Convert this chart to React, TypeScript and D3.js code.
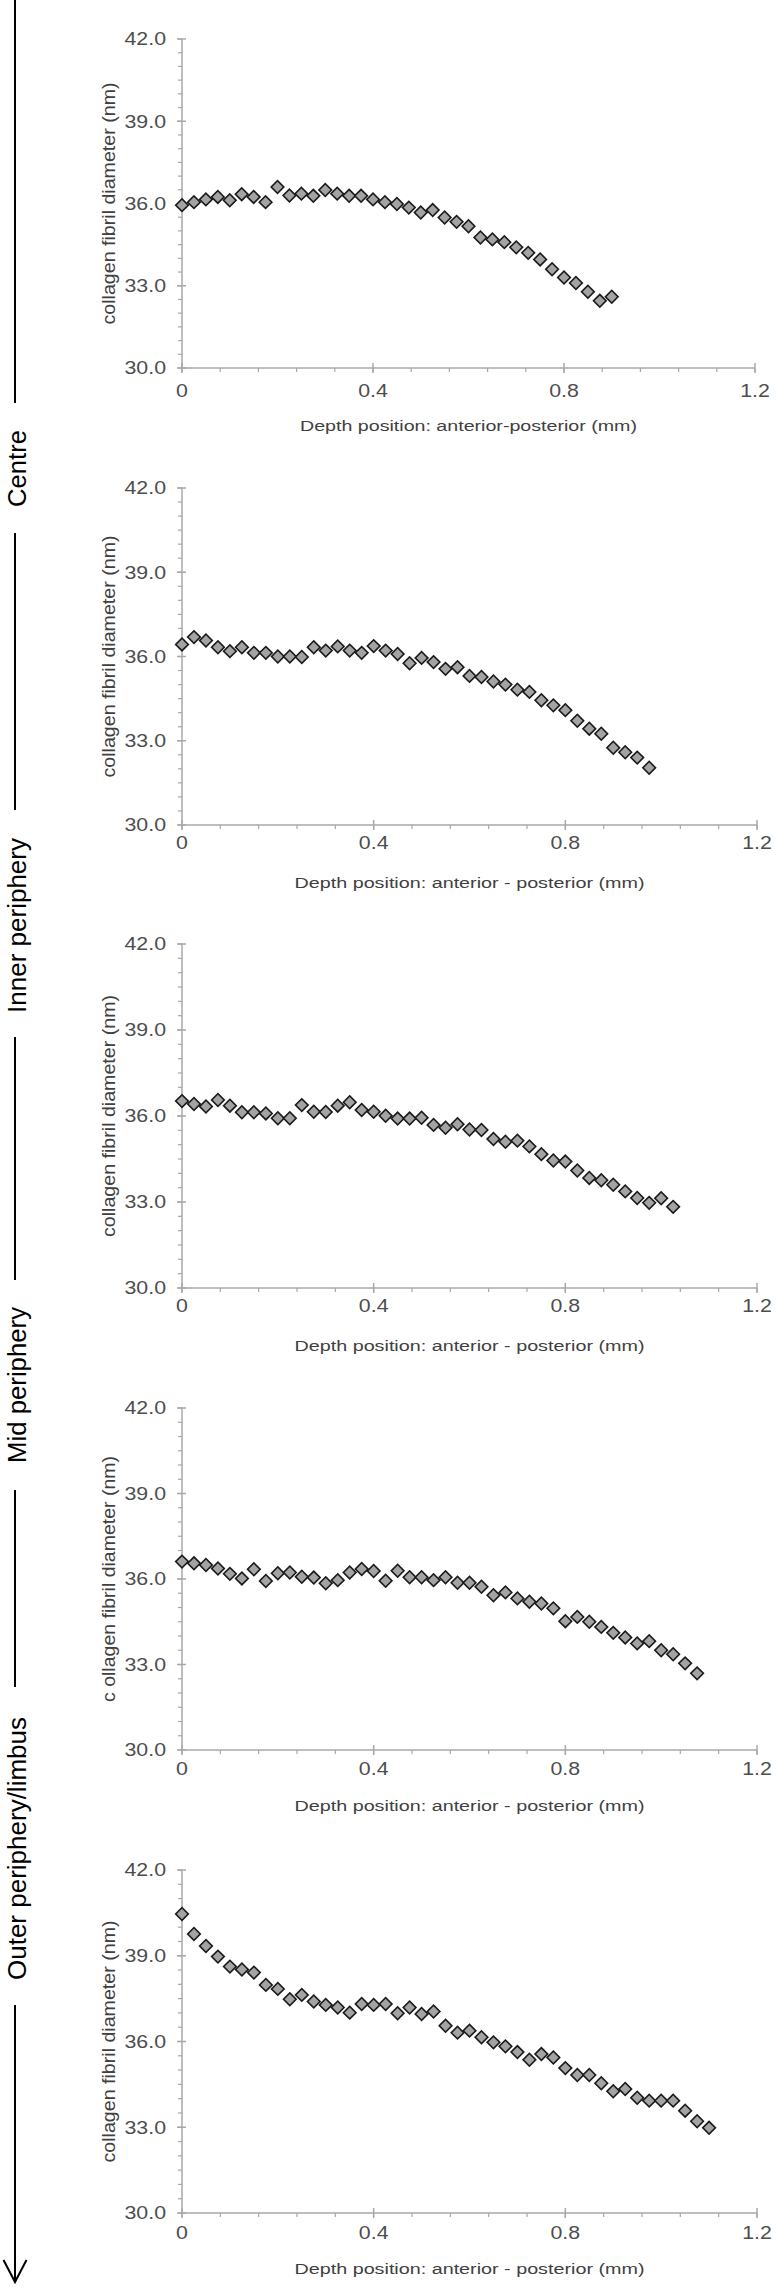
import React from "react";
import * as d3 from "d3";

// ---- data ----
const DEPTH = [0, 0.025, 0.05, 0.075, 0.1, 0.125, 0.15, 0.175, 0.2, 0.225, 0.25, 0.275, 0.3, 0.325, 0.35, 0.375, 0.4, 0.425, 0.45, 0.475, 0.5, 0.525, 0.55, 0.575, 0.6, 0.625, 0.65, 0.675, 0.7, 0.725, 0.75, 0.775, 0.8, 0.825, 0.85, 0.875, 0.9, 0.925, 0.95, 0.975, 1.0, 1.025, 1.05, 1.075, 1.1];

const PANEL1 = [35.94, 36.05, 36.15, 36.24, 36.12, 36.34, 36.24, 36.05, 36.6, 36.29, 36.36, 36.28, 36.49, 36.36, 36.28, 36.28, 36.15, 36.05, 35.98, 35.85, 35.67, 35.76, 35.49, 35.33, 35.17, 34.76, 34.69, 34.59, 34.4, 34.2, 33.96, 33.6, 33.3, 33.1, 32.78, 32.45, 32.6];
const PANEL2 = [36.43, 36.69, 36.57, 36.33, 36.19, 36.33, 36.13, 36.13, 36.0, 36.0, 35.98, 36.33, 36.21, 36.36, 36.21, 36.13, 36.37, 36.21, 36.09, 35.76, 35.95, 35.8, 35.56, 35.62, 35.31, 35.27, 35.11, 35.0, 34.82, 34.74, 34.44, 34.26, 34.09, 33.71, 33.43, 33.25, 32.75, 32.59, 32.4, 32.04];
const PANEL3 = [36.52, 36.42, 36.33, 36.56, 36.36, 36.13, 36.13, 36.09, 35.92, 35.92, 36.38, 36.15, 36.14, 36.36, 36.48, 36.21, 36.15, 36.01, 35.91, 35.91, 35.94, 35.69, 35.59, 35.71, 35.53, 35.51, 35.2, 35.1, 35.14, 34.94, 34.67, 34.45, 34.41, 34.1, 33.84, 33.76, 33.6, 33.37, 33.14, 32.97, 33.13, 32.83];
const PANEL4 = [36.61, 36.55, 36.49, 36.37, 36.18, 36.02, 36.34, 35.93, 36.2, 36.23, 36.08, 36.05, 35.85, 35.96, 36.23, 36.35, 36.28, 35.94, 36.29, 36.06, 36.06, 35.96, 36.06, 35.87, 35.87, 35.73, 35.43, 35.53, 35.32, 35.2, 35.14, 34.97, 34.52, 34.67, 34.5, 34.32, 34.11, 33.95, 33.74, 33.82, 33.5, 33.36, 33.04, 32.69];
const PANEL5 = [40.46, 39.76, 39.34, 38.97, 38.62, 38.52, 38.41, 37.98, 37.84, 37.48, 37.63, 37.4, 37.28, 37.19, 37.01, 37.31, 37.28, 37.31, 36.99, 37.19, 36.96, 37.05, 36.55, 36.31, 36.38, 36.15, 35.97, 35.83, 35.63, 35.36, 35.56, 35.44, 35.07, 34.83, 34.83, 34.54, 34.26, 34.34, 34.03, 33.93, 33.93, 33.93, 33.58, 33.21, 32.98];

const SERIES = [PANEL1, PANEL2, PANEL3, PANEL4, PANEL5];

const Y_LABELS = [
  "collagen fibril diameter (nm)",
  "collagen fibril diameter (nm)",
  "collagen fibril diameter (nm)",
  "c ollagen fibril diameter (nm)",
  "collagen fibril diameter (nm)",
];
const X_LABELS = [
  "Depth position: anterior-posterior (mm)",
  "Depth position: anterior - posterior (mm)",
  "Depth position: anterior - posterior (mm)",
  "Depth position: anterior - posterior (mm)",
  "Depth position: anterior - posterior (mm)",
];
const REGIONS = ["Centre", "Inner periphery", "Mid periphery", "Outer periphery/limbus"];

const Y_MAJOR = [30, 33, 36, 39, 42];
const X_MAJOR = [0, 0.4, 0.8, 1.2];
const X_TICK_TEXT = ["0", "0.4", "0.8", "1.2"];

// ---- layout ----
const W = 776;
const H = 2287;
const PLOT_LEFT = 182;
const PLOT_RIGHTS = [755, 757, 757, 757, 757];
const PLOT_TOPS = [39, 488, 944, 1408, 1870];
const PLOT_BOTTOMS = [368, 825, 1288, 1750, 2213];
const XTICK_GAP = [23, 18, 18, 19, 20];
const XTITLE_GAP = [57, 57, 57, 55, 55];
const XTITLE_LEN = [337, 350, 350, 350, 350];
const YTITLE_LEN = [242, 242, 242, 246, 242];

const REGION_SPANS = [
  [430, 507],
  [838, 1013],
  [1307, 1463],
  [1717, 1980],
];
const LINE_SEGS = [
  [0, 403],
  [533, 810],
  [1037, 1280],
  [1490, 1687],
  [2005, 2282],
];

const AXIS_COLOR = "#a8a8a8";
const TICK_TEXT_COLOR = "#4d4d4d";
const TEXT_COLOR = "#404040";
const FONT = "'Liberation Sans', Arial, sans-serif";
const STRETCH = 1.22;

function Panel({ idx }: { idx: number }) {
  const values = SERIES[idx];
  const top = PLOT_TOPS[idx];
  const bottom = PLOT_BOTTOMS[idx];
  const right = PLOT_RIGHTS[idx];
  const x = d3.scaleLinear().domain([0, 1.2]).range([PLOT_LEFT, right]);
  const y = d3.scaleLinear().domain([30, 42]).range([bottom, top]);
  const yMinor = d3.range(30, 42.001, 0.5);
  const xMinor = d3.range(0, 1.2001, 0.08);
  const diamond = d3.symbol(d3.symbolSquare, 80)() as string;
  const midY = (top + bottom) / 2;
  return (
    <g>
      {/* y axis */}
      <line x1={PLOT_LEFT} x2={PLOT_LEFT} y1={top} y2={bottom} stroke={AXIS_COLOR} strokeWidth={1.5} />
      {yMinor.map((v, i) => (
        <line key={"ym" + i} x1={PLOT_LEFT - 4} x2={PLOT_LEFT} y1={y(v)} y2={y(v)} stroke={AXIS_COLOR} strokeWidth={1.2} />
      ))}
      {Y_MAJOR.map((v) => (
        <g key={"yM" + v}>
          <line x1={PLOT_LEFT - 5} x2={PLOT_LEFT + 4} y1={y(v)} y2={y(v)} stroke={AXIS_COLOR} strokeWidth={1.5} />
          <text
            transform={`translate(166,${y(v)}) scale(${STRETCH},1)`}
            dy="0.36em"
            textAnchor="end"
            fontSize={17.5}
            fill={TICK_TEXT_COLOR}
            fontFamily={FONT}
          >
            {v.toFixed(1)}
          </text>
        </g>
      ))}
      {/* x axis */}
      <line x1={PLOT_LEFT} x2={right} y1={bottom} y2={bottom} stroke={AXIS_COLOR} strokeWidth={1.5} />
      {xMinor.map((v, i) => (
        <line key={"xm" + i} x1={x(v)} x2={x(v)} y1={bottom} y2={bottom + 4} stroke={AXIS_COLOR} strokeWidth={1.2} />
      ))}
      {X_MAJOR.map((v, i) => (
        <g key={"xM" + v}>
          <line x1={x(v)} x2={x(v)} y1={bottom - 5} y2={bottom + 5} stroke={AXIS_COLOR} strokeWidth={1.5} />
          <text
            transform={`translate(${x(v)},${bottom + XTICK_GAP[idx]}) scale(${STRETCH},1)`}
            dy="0.36em"
            textAnchor="middle"
            fontSize={17.5}
            fill={TICK_TEXT_COLOR}
            fontFamily={FONT}
          >
            {X_TICK_TEXT[i]}
          </text>
        </g>
      ))}
      {/* axis titles */}
      <text
        x={(PLOT_LEFT + right) / 2}
        y={bottom + XTITLE_GAP[idx]}
        dy="0.36em"
        textAnchor="middle"
        fontSize={15.5}
        fill={TEXT_COLOR}
        fontFamily={FONT}
        textLength={XTITLE_LEN[idx]}
        lengthAdjust="spacingAndGlyphs"
      >
        {X_LABELS[idx]}
      </text>
      <text
        transform={`translate(115,${midY}) rotate(-90)`}
        textAnchor="middle"
        fontSize={18}
        fill={TEXT_COLOR}
        fontFamily={FONT}
        textLength={YTITLE_LEN[idx]}
        lengthAdjust="spacingAndGlyphs"
      >
        {Y_LABELS[idx]}
      </text>
      {/* markers */}
      {values.map((v, i) => (
        <path
          key={"p" + i}
          d={diamond}
          transform={`translate(${x(DEPTH[i])},${y(v)}) rotate(45)`}
          fill="#a3a3a3"
          stroke="#1a1a1a"
          strokeWidth={1.6}
        />
      ))}
    </g>
  );
}

export default function App() {
  return (
    <>
      <style>{`body{margin:0}`}</style>
      <svg width={W} height={H} style={{ display: "block", background: "#fff" }}>
        <rect x={0} y={0} width={W} height={H} fill="#fff" />
        {LINE_SEGS.map((s, i) => (
          <line key={"ls" + i} x1={15} x2={15} y1={s[0]} y2={s[1]} stroke="#000" strokeWidth={2} />
        ))}
        <polyline points={`3.5,2260 15,2282 26.5,2260`} fill="none" stroke="#000" strokeWidth={2} />
        {REGIONS.map((r, i) => (
          <text
            key={r}
            transform={`translate(25.5,${(REGION_SPANS[i][0] + REGION_SPANS[i][1]) / 2}) rotate(-90)`}
            textAnchor="middle"
            fontSize={25.5}
            fill="#000"
            fontFamily={FONT}
            textLength={REGION_SPANS[i][1] - REGION_SPANS[i][0]}
            lengthAdjust="spacingAndGlyphs"
          >
            {r}
          </text>
        ))}
        {SERIES.map((_, i) => (
          <Panel key={i} idx={i} />
        ))}
      </svg>
    </>
  );
}
